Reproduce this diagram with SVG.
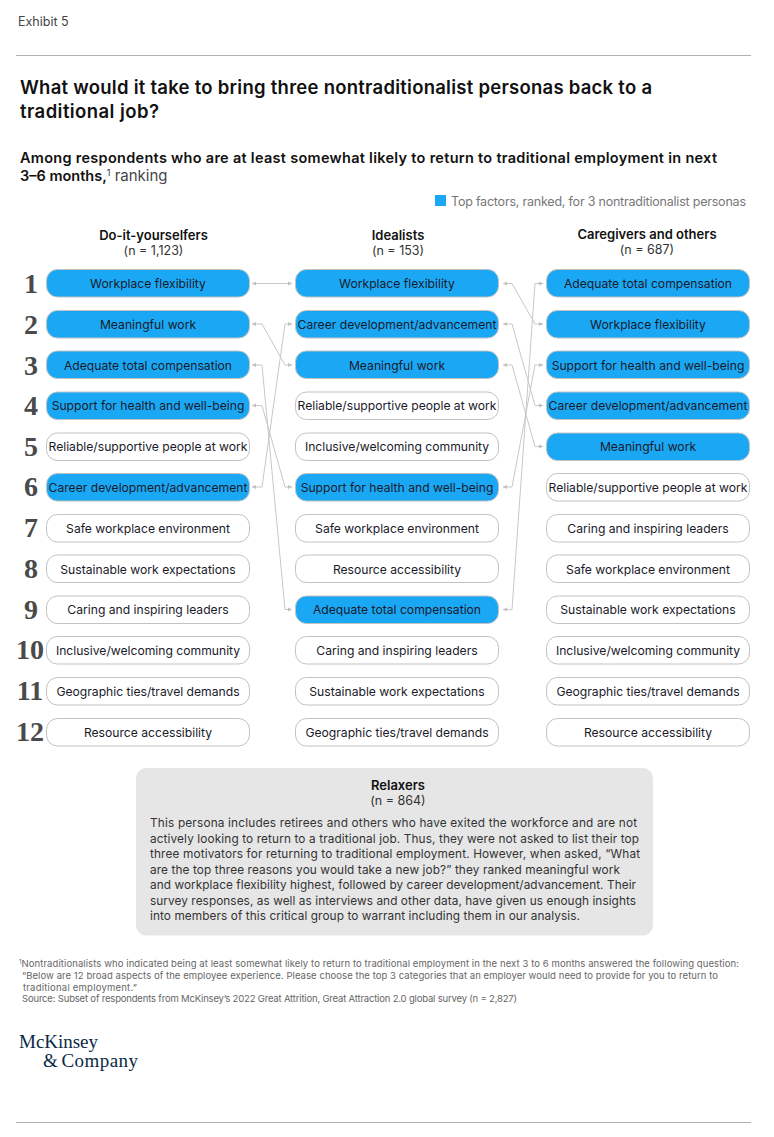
<svg xmlns="http://www.w3.org/2000/svg" width="774" height="1137" viewBox="0 0 774 1137">
<style>
text{font-family:"Inter","Liberation Sans",sans-serif;fill:#222}
.p{stroke:#c2c2c2;stroke-width:1}
.on{fill:#1aa8f5}.off{fill:#fff}
.l{font-size:12.15px;text-anchor:middle;fill:#1a1a2a}
.r{font-family:"Liberation Serif",serif;font-size:28px;font-weight:bold;fill:#4a4a4a;text-anchor:middle}
.h{font-size:13px;font-weight:600;text-anchor:middle;fill:#111}
.n{font-size:12.5px;text-anchor:middle;fill:#333}
.c{fill:none;stroke:#c8c8c8;stroke-width:1;marker-start:url(#a);marker-end:url(#a)}
.b{font-size:11.8px;fill:#333}
.f{font-size:9.5px;fill:#666}
.t{font-size:18.5px;font-weight:600;fill:#111}
.s{font-size:14.5px;font-weight:600;fill:#111}
.g{font-family:"Liberation Serif",serif;font-size:19px;fill:#0b2a45;word-spacing:-2px}
</style>
<defs><marker id="a" markerUnits="userSpaceOnUse" markerWidth="5" markerHeight="6" refX="4" refY="3" orient="auto-start-reverse"><path d="M0 1L4 3L0 5z" fill="#c0c0c0"/></marker></defs>
<rect width="774" height="1137" fill="#fff"/>
<text x="18" y="26" font-size="12.5" style="fill:#444">Exhibit 5</text>
<line x1="16" y1="55.500" x2="751" y2="55.500" stroke="#b0b0b0"/>
<line x1="16" y1="1122.500" x2="751" y2="1122.500" stroke="#b0b0b0"/>
<text class="t" x="20" y="94" textLength="632">What would it take to bring three nontraditionalist personas back to a</text>
<text class="t" x="20" y="118" textLength="139">traditional job?</text>
<text class="s" x="20" y="163" textLength="697">Among respondents who are at least somewhat likely to return to traditional employment in next</text>
<text x="20" y="181" font-size="14.500"><tspan font-weight="600" style="fill:#111">3–6 months,</tspan><tspan font-size="9" dy="-5" style="fill:#333">1</tspan><tspan dy="5" font-size="15" style="fill:#444"> ranking</tspan></text>
<rect id="legend-swatch" x="435" y="195" width="11" height="11" fill="#1aa8f5"/>
<text x="451" y="206" font-size="12.500" textLength="295" style="fill:#777">Top factors, ranked, for 3 nontraditionalist personas</text>

<g id="ranks">
<text class="r" x="31" y="293">1</text><text class="r" x="31" y="334">2</text><text class="r" x="31" y="375">3</text><text class="r" x="31" y="415">4</text><text class="r" x="31" y="456">5</text><text class="r" x="31" y="496">6</text><text class="r" x="31" y="537">7</text><text class="r" x="31" y="578">8</text><text class="r" x="31" y="619">9</text><text class="r" x="30" y="659">10</text><text class="r" x="30" y="700">11</text><text class="r" x="30" y="741">12</text>
</g>

<g id="headers">
<text class="h" x="153.500" y="240">Do-it-yourselfers</text><text class="n" x="153.500" y="255">(n = 1,123)</text>
<text class="h" x="398" y="240">Idealists</text><text class="n" x="398" y="255">(n = 153)</text>
<text class="h" x="647" y="239">Caregivers and others</text><text class="n" x="647" y="254">(n = 687)</text>
</g>

<g id="connectors">
<path class="c" d="M252 283.500H292"/>
<path class="c" d="M252 324H262L285 365H292"/>
<path class="c" d="M252 365H262L285 609.500H292"/>
<path class="c" d="M252 405.500H262L285 487H292"/>
<path class="c" d="M252 487H262L285 324H292"/>
<path class="c" d="M503 283.500H512L535 324H543"/>
<path class="c" d="M503 324H512L535 405.500H543"/>
<path class="c" d="M503 365H512L535 446.500H543"/>
<path class="c" d="M503 487H512L535 365H543"/>
<path class="c" d="M503 609.500H512L535 283.500H543"/>
</g>

<g id="d1"><rect class="p on" x="46.500" y="269.500" width="203" height="27.500" rx="11"/><text class="l" x="148" y="287.500">Workplace flexibility</text></g>
<g id="d2"><rect class="p on" x="46.500" y="310.500" width="203" height="27.500" rx="11"/><text class="l" x="148" y="328.500">Meaningful work</text></g>
<g id="d3"><rect class="p on" x="46.500" y="351" width="203" height="27.500" rx="11"/><text class="l" x="148" y="369.500">Adequate total compensation</text></g>
<g id="d4"><rect class="p on" x="46.500" y="392" width="203" height="27.500" rx="11"/><text class="l" x="148" y="410">Support for health and well-being</text></g>
<g id="d5"><rect class="p off" x="46.500" y="433" width="203" height="27.500" rx="11"/><text class="l" x="148" y="451" textLength="199">Reliable/supportive people at work</text></g>
<g id="d6"><rect class="p on" x="46.500" y="473.500" width="203" height="27.500" rx="11"/><text class="l" x="148" y="491.500">Career development/advancement</text></g>
<g id="d7"><rect class="p off" x="46.500" y="514.500" width="203" height="27.500" rx="11"/><text class="l" x="148" y="532.500">Safe workplace environment</text></g>
<g id="d8"><rect class="p off" x="46.500" y="555" width="203" height="27.500" rx="11"/><text class="l" x="148" y="573.500">Sustainable work expectations</text></g>
<g id="d9"><rect class="p off" x="46.500" y="596" width="203" height="27.500" rx="11"/><text class="l" x="148" y="614">Caring and inspiring leaders</text></g>
<g id="d10"><rect class="p off" x="46.500" y="636.500" width="203" height="27.500" rx="11"/><text class="l" x="148" y="654.500">Inclusive/welcoming community</text></g>
<g id="d11"><rect class="p off" x="46.500" y="677.500" width="203" height="27.500" rx="11"/><text class="l" x="148" y="695.500">Geographic ties/travel demands</text></g>
<g id="d12"><rect class="p off" x="46.500" y="718.500" width="203" height="27.500" rx="11"/><text class="l" x="148" y="736.500">Resource accessibility</text></g>

<g id="i1"><rect class="p on" x="295.500" y="269.500" width="203" height="27.500" rx="11"/><text class="l" x="397" y="287.500">Workplace flexibility</text></g>
<g id="i2"><rect class="p on" x="295.500" y="310.500" width="203" height="27.500" rx="11"/><text class="l" x="397" y="328.500">Career development/advancement</text></g>
<g id="i3"><rect class="p on" x="295.500" y="351" width="203" height="27.500" rx="11"/><text class="l" x="397" y="369.500">Meaningful work</text></g>
<g id="i4"><rect class="p off" x="295.500" y="392" width="203" height="27.500" rx="11"/><text class="l" x="397" y="410" textLength="199">Reliable/supportive people at work</text></g>
<g id="i5"><rect class="p off" x="295.500" y="433" width="203" height="27.500" rx="11"/><text class="l" x="397" y="451">Inclusive/welcoming community</text></g>
<g id="i6"><rect class="p on" x="295.500" y="473.500" width="203" height="27.500" rx="11"/><text class="l" x="397" y="491.500">Support for health and well-being</text></g>
<g id="i7"><rect class="p off" x="295.500" y="514.500" width="203" height="27.500" rx="11"/><text class="l" x="397" y="532.500">Safe workplace environment</text></g>
<g id="i8"><rect class="p off" x="295.500" y="555" width="203" height="27.500" rx="11"/><text class="l" x="397" y="573.500">Resource accessibility</text></g>
<g id="i9"><rect class="p on" x="295.500" y="596" width="203" height="27.500" rx="11"/><text class="l" x="397" y="614">Adequate total compensation</text></g>
<g id="i10"><rect class="p off" x="295.500" y="636.500" width="203" height="27.500" rx="11"/><text class="l" x="397" y="654.500">Caring and inspiring leaders</text></g>
<g id="i11"><rect class="p off" x="295.500" y="677.500" width="203" height="27.500" rx="11"/><text class="l" x="397" y="695.500">Sustainable work expectations</text></g>
<g id="i12"><rect class="p off" x="295.500" y="718.500" width="203" height="27.500" rx="11"/><text class="l" x="397" y="736.500">Geographic ties/travel demands</text></g>

<g id="c1"><rect class="p on" x="546.500" y="269.500" width="203" height="27.500" rx="11"/><text class="l" x="648" y="287.500">Adequate total compensation</text></g>
<g id="c2"><rect class="p on" x="546.500" y="310.500" width="203" height="27.500" rx="11"/><text class="l" x="648" y="328.500">Workplace flexibility</text></g>
<g id="c3"><rect class="p on" x="546.500" y="351" width="203" height="27.500" rx="11"/><text class="l" x="648" y="369.500">Support for health and well-being</text></g>
<g id="c4"><rect class="p on" x="546.500" y="392" width="203" height="27.500" rx="11"/><text class="l" x="648" y="410">Career development/advancement</text></g>
<g id="c5"><rect class="p on" x="546.500" y="433" width="203" height="27.500" rx="11"/><text class="l" x="648" y="451">Meaningful work</text></g>
<g id="c6"><rect class="p off" x="546.500" y="473.500" width="203" height="27.500" rx="11"/><text class="l" x="648" y="491.500" textLength="199">Reliable/supportive people at work</text></g>
<g id="c7"><rect class="p off" x="546.500" y="514.500" width="203" height="27.500" rx="11"/><text class="l" x="648" y="532.500">Caring and inspiring leaders</text></g>
<g id="c8"><rect class="p off" x="546.500" y="555" width="203" height="27.500" rx="11"/><text class="l" x="648" y="573.500">Safe workplace environment</text></g>
<g id="c9"><rect class="p off" x="546.500" y="596" width="203" height="27.500" rx="11"/><text class="l" x="648" y="614">Sustainable work expectations</text></g>
<g id="c10"><rect class="p off" x="546.500" y="636.500" width="203" height="27.500" rx="11"/><text class="l" x="648" y="654.500">Inclusive/welcoming community</text></g>
<g id="c11"><rect class="p off" x="546.500" y="677.500" width="203" height="27.500" rx="11"/><text class="l" x="648" y="695.500">Geographic ties/travel demands</text></g>
<g id="c12"><rect class="p off" x="546.500" y="718.500" width="203" height="27.500" rx="11"/><text class="l" x="648" y="736.500">Resource accessibility</text></g>

<g id="relaxers">
<rect x="136" y="768" width="517" height="167.500" rx="10" fill="#e6e6e6"/>
<text class="h" x="398" y="790">Relaxers</text><text class="n" x="398" y="805">(n = 864)</text>
<text class="b" x="150" y="827" textLength="487">This persona includes retirees and others who have exited the workforce and are not</text>
<text class="b" x="150" y="843" textLength="489">actively looking to return to a traditional job. Thus, they were not asked to list their top</text>
<text class="b" x="150" y="858" textLength="490">three motivators for returning to traditional employment. However, when asked, “What</text>
<text class="b" x="150" y="874" textLength="470">are the top three reasons you would take a new job?” they ranked meaningful work</text>
<text class="b" x="150" y="889" textLength="486">and workplace flexibility highest, followed by career development/advancement. Their</text>
<text class="b" x="150" y="905" textLength="486">survey responses, as well as interviews and other data, have given us enough insights</text>
<text class="b" x="150" y="920" textLength="430">into members of this critical group to warrant including them in our analysis.</text>
</g>

<g id="notes">
<text class="f" x="19" y="967" textLength="720"><tspan font-size="6" dy="-3">1</tspan><tspan dy="3">Nontraditionalists who indicated being at least somewhat likely to return to traditional employment in the next 3 to 6 months answered the following question:</tspan></text>
<text class="f" x="22" y="979" textLength="696">“Below are 12 broad aspects of the employee experience. Please choose the top 3 categories that an employer would need to provide for you to return to</text>
<text class="f" x="23" y="991" textLength="114">traditional employment.”</text>
<text class="f" x="22" y="1002" textLength="495">Source: Subset of respondents from McKinsey’s 2022 Great Attrition, Great Attraction 2.0 global survey (n = 2,827)</text>
</g>
<g id="logo">
<text class="g" x="19" y="1048" textLength="79">McKinsey</text>
<text class="g" x="43" y="1067" textLength="95">&amp; Company</text>
</g>
</svg>
